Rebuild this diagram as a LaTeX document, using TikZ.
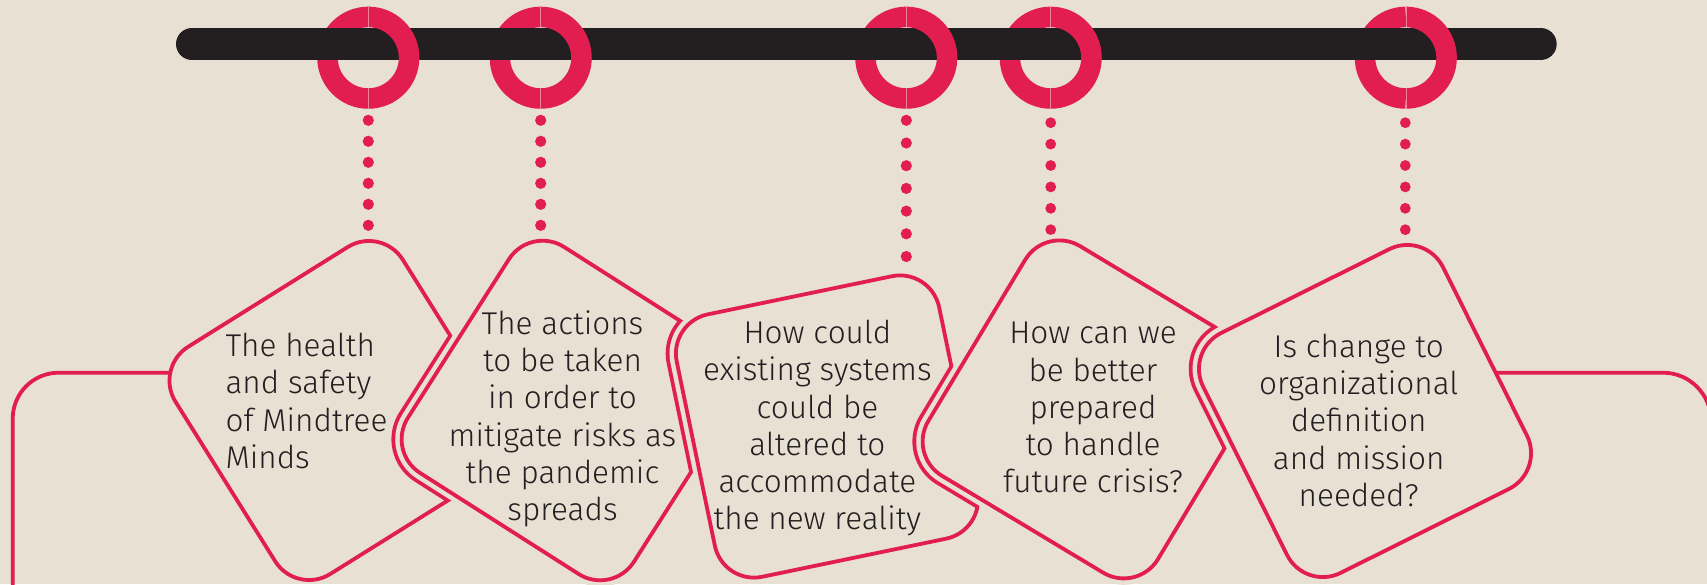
\documentclass[tikz,border=0pt]{standalone}
\usepackage{fontspec}
\setmainfont{Fira Sans Light}
\definecolor{bg}{HTML}{E9E0D4}
\definecolor{qred}{HTML}{E21E50}
\definecolor{barc}{HTML}{231F20}
\definecolor{ink}{HTML}{231F20}
\newcommand\qtop{\rule{0pt}{26pt}}
\newcommand\qbot{\rule[-26pt]{0pt}{26pt}}
\newcommand\qhalo[4]{%
  \begin{scope}
    \clip[shift={#1},rotate=#2,rounded corners=40pt] (-134,-134) rectangle (134,134);
    \draw[qred,line width=20.4pt,shift={#3},rotate=#4,rounded corners=40pt] (-134,-134) rectangle (134,134);
  \end{scope}
  \draw[bg,line width=12.8pt,shift={#3},rotate=#4,rounded corners=40pt] (-134,-134) rectangle (134,134);
}
\begin{document}
\begin{tikzpicture}[x=1pt,y=-1pt,
  qbox/.style={rectangle,draw=qred,fill=bg,line width=3.8pt,minimum width=268pt,minimum height=268pt,inner sep=0pt,outer sep=0pt,rounded corners=40pt},
  qline/.style={draw=qred,line width=3.8pt},
  ringst/.style={draw=qred,line width=20.5pt},
  qdot/.style={fill=qred},
  qtext/.style={text=ink,inner sep=0pt,font=\fontsize{31.5pt}{37.3pt}\selectfont},
  seam/.style={draw=qred!55!white,line width=0.6pt}]
\fill[bg] (0,0) rectangle (1707,584);
\useasboundingbox (0,0) rectangle (1707,584);
\clip (0,0) rectangle (1707,584);

% ring centres
\coordinate (r1) at (368.3,57.7);
\coordinate (r2) at (540.7,57.7);
\coordinate (r3) at (906.3,57.7);
\coordinate (r4) at (1050.7,57.7);
\coordinate (r5) at (1405.8,57.7);

% left halves of rings (under the bar)
\foreach \r in {r1,r2,r3,r4,r5}
  \draw[ringst] (\r) ++(0,-40.8) arc[start angle=-90,end angle=-270,radius=40.8];

% bar
\coordinate (b1) at (192,44);
\coordinate (b2) at (1540.7,44);
\draw[barc,line width=32pt,line cap=round] (b1) -- (b2);

% right halves of rings (over the bar)
\foreach \r in {r1,r2,r3,r4,r5}
  \draw[ringst] (\r) ++(0,-40.8) arc[start angle=-90,end angle=90,radius=40.8];
\foreach \r in {r1,r2,r3,r4,r5}{
  \draw[seam] (\r) ++(0,-51.3) -- ++(0,21);
  \draw[seam] (\r) ++(0,30.3) -- ++(0,21);
}

% dotted drops
\foreach \i in {0,...,5} {
  \fill[qdot] (368.3,120.3+21*\i) circle (5.6);
  \fill[qdot] (540.7,120.3+21*\i) circle (5.6);
  \fill[qdot] (1050.7,122.7+21.4*\i) circle (5.4);
  \fill[qdot] (1405.3,122.7+21.4*\i) circle (5.4);
}
\foreach \i in {0,...,6}
  \fill[qdot] (906.3,120.3+22.7*\i) circle (5.6);

% question boxes
\node[qbox,rotate=32] (s1) at (339,410.5) {};
\qhalo{(339,410.5)}{32}{(571.4,410.5)}{57.5}
\node[qbox,rotate=57.5] (s2) at (571.4,410.5) {};
\qhalo{(571.4,410.5)}{57.5}{(827,426.5)}{11.7}
\node[qbox,rotate=11.7] (s3) at (827,426.5) {};
\qhalo{(827,426.5)}{11.7}{(1091.6,409.4)}{59}
\node[qbox,rotate=59] (s4) at (1091.6,409.4) {};
\qhalo{(1091.6,409.4)}{59}{(1365,411)}{26.5}
\node[qbox,rotate=26.5] (s5) at (1365,411) {};

% side connectors
\coordinate (s1w) at (170,372.7);
\coordinate (lend) at (12.7,620);
\draw[qline,rounded corners=46pt] (s1w) -| (lend);
\coordinate (s5e) at (1495.5,372.7);
\coordinate (rend) at (1711,620);
\draw[qline,rounded corners=48pt] (s5e) -| (rend);

% texts
\node[qtext,align=left,anchor=west] (t1) at (225.4,412.5)
  {\qtop The health\\and safety\\of Mindtree\\Minds\qbot};
\node[qtext,align=center] (t2) at (562.5,427.5)
  {\qtop The actions\\to be taken\\in order to\\mitigate risks as\\the pandemic\\spreads\qbot};
\node[qtext,align=center] (t3) at (817.4,436.7)
  {\qtop How could\\existing systems\\could be\\altered to\\accommodate\\the new reality\qbot};
\node[qtext,align=center] (t4) at (1093,418.3)
  {\qtop How can we\\be better\\prepared\\to handle\\future crisis?\qbot};
\node[qtext,align=center] (t5) at (1358.7,431.7)
  {\qtop Is change to\\organizational\\definition\\and mission\\needed?\qbot};
\end{tikzpicture}
\end{document}
